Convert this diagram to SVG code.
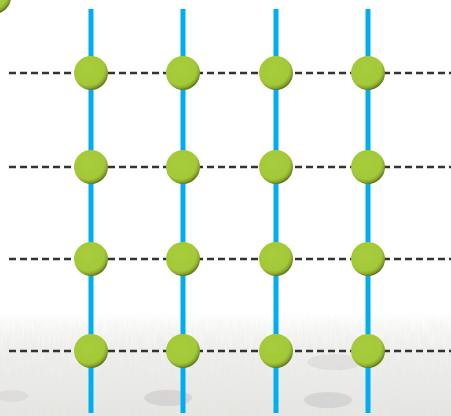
<svg xmlns="http://www.w3.org/2000/svg" width="451" height="416" viewBox="0 0 451 416">
<defs>
<linearGradient id="bg" x1="0" y1="0" x2="0" y2="1">
<stop offset="0" stop-color="#ffffff"/>
<stop offset="0.75" stop-color="#ffffff"/>
<stop offset="0.84" stop-color="#f1f1ef"/>
<stop offset="1" stop-color="#e4e5e1"/>
</linearGradient>
<mask id="grassMask">
<rect x="0" y="310" width="451" height="106" fill="url(#maskGrad)"/>
</mask>
<linearGradient id="maskGrad" x1="0" y1="0" x2="0" y2="1">
<stop offset="0" stop-color="#000"/>
<stop offset="0.3" stop-color="#999"/>
<stop offset="1" stop-color="#fff"/>
</linearGradient>
<filter id="grass" x="0" y="0" width="100%" height="100%">
<feTurbulence type="fractalNoise" baseFrequency="0.4 0.06" numOctaves="3" seed="4"/>
<feColorMatrix type="matrix" values="0 0 0 0 0.80  0 0 0 0 0.81  0 0 0 0 0.79  0 0 0 -1.6 1.15"/>
</filter>
<radialGradient id="ball" cx="0.42" cy="0.38" r="0.62">
<stop offset="0" stop-color="#a9cd3c"/>
<stop offset="0.76" stop-color="#a3c938"/>
<stop offset="0.9" stop-color="#8aa92c"/>
<stop offset="1" stop-color="#5f7a1c"/>
</radialGradient>
<style>
.v{stroke:#00adef;stroke-width:5;fill:none}
.h{stroke:#333333;stroke-width:2.5;stroke-dasharray:7 4;fill:none}
.n{fill:url(#ball)}
</style>
</defs>
<rect width="451" height="416" fill="url(#bg)"/>
<rect x="0" y="310" width="451" height="106" filter="url(#grass)" mask="url(#grassMask)"/>
<ellipse cx="168" cy="398" rx="24" ry="8" fill="#c9c3c6" opacity="0.55"/>
<ellipse cx="328" cy="400" rx="24" ry="8" fill="#c9c3c6" opacity="0.55"/>
<ellipse cx="335" cy="362" rx="28" ry="8" fill="#d3cfd1" opacity="0.45"/>
<ellipse cx="12" cy="396" rx="16" ry="6" fill="#d3cfd1" opacity="0.45"/>
<g id="corner"><circle class="n" cx="-6" cy="-3" r="17"/></g>
<g id="connectors">
<line class="h" x1="9" y1="73" x2="451" y2="73"/>
<line class="h" x1="9" y1="167" x2="451" y2="167"/>
<line class="h" x1="9" y1="259" x2="451" y2="259"/>
<line class="h" x1="9" y1="351" x2="451" y2="351"/>
<line class="v" x1="91" y1="9" x2="91" y2="413"/>
<line class="v" x1="183" y1="9" x2="183" y2="413"/>
<line class="v" x1="276" y1="9" x2="276" y2="413"/>
<line class="v" x1="368" y1="9" x2="368" y2="413"/>
</g>
<g id="n11"><circle class="n" cx="91" cy="73" r="17"/></g>
<g id="n12"><circle class="n" cx="183" cy="73" r="17"/></g>
<g id="n13"><circle class="n" cx="276" cy="73" r="17"/></g>
<g id="n14"><circle class="n" cx="368" cy="73" r="17"/></g>
<g id="n21"><circle class="n" cx="91" cy="167" r="17"/></g>
<g id="n22"><circle class="n" cx="183" cy="167" r="17"/></g>
<g id="n23"><circle class="n" cx="276" cy="167" r="17"/></g>
<g id="n24"><circle class="n" cx="368" cy="167" r="17"/></g>
<g id="n31"><circle class="n" cx="91" cy="259" r="17"/></g>
<g id="n32"><circle class="n" cx="183" cy="259" r="17"/></g>
<g id="n33"><circle class="n" cx="276" cy="259" r="17"/></g>
<g id="n34"><circle class="n" cx="368" cy="259" r="17"/></g>
<g id="n41"><circle class="n" cx="91" cy="351" r="17"/></g>
<g id="n42"><circle class="n" cx="183" cy="351" r="17"/></g>
<g id="n43"><circle class="n" cx="276" cy="351" r="17"/></g>
<g id="n44"><circle class="n" cx="368" cy="351" r="17"/></g>
</svg>
